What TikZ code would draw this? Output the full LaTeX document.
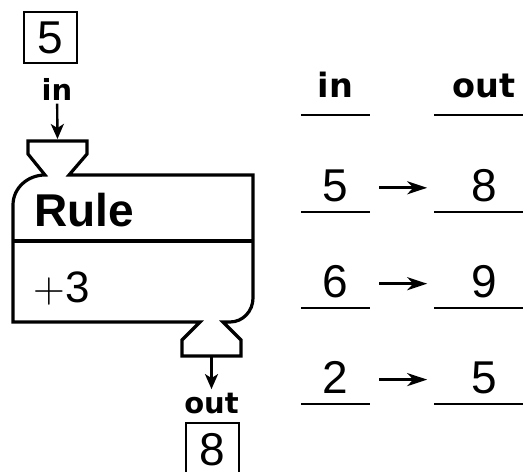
\documentclass[tikz,border=0pt]{standalone}
\usepackage{fontspec}
\setmainfont{Liberation Sans}
\newfontfamily\heavyfont{DejaVu Sans}
\newfontfamily\plusfont{Latin Modern Roman}
\usetikzlibrary{arrows.meta,positioning}

\newcommand{\bignum}{\fontsize{46}{50}\selectfont}
\newcommand{\headfont}{\heavyfont\fontsize{33.5}{36}\selectfont\bfseries}
\newcommand{\tagfont}{\heavyfont\fontsize{29}{32}\selectfont\bfseries}

\begin{document}
\begin{tikzpicture}[x=1pt, y=-1pt,
  numbox/.style={draw, line width=2pt, inner sep=0pt, minimum width=53pt,
                 minimum height=51pt, font=\bignum},
  cell/.style={inner sep=0pt, text height=38pt, text depth=10pt,
               minimum width=69pt, font=\bignum},
  widecell/.style={cell, minimum width=100pt},
  headcell/.style={inner sep=0pt, text height=30pt, text depth=17pt,
                   minimum width=69pt, font=\headfont},
  wideheadcell/.style={headcell, minimum width=100pt},
  rulebox/.style={line width=3.2pt, line join=miter},
  flow/.style={-{Stealth[length=20pt,width=13pt,inset=6pt]}, line width=2.8pt},
  drop/.style={-{Stealth[length=15pt,width=13pt,inset=4pt]}, line width=2.4pt},
  uline/.style={line width=2.2pt}]
  \useasboundingbox (0,0) rectangle (523,472);

  % machine: input side
  \node[numbox] (inbox) at (50.5,37.5) {5};
  \node[font=\tagfont, anchor=base] (intag) at (57,100) {in};
  \coordinate (funtop) at (57.5,139);

  % rule machine body with its two funnels
  \draw[rulebox] (28,141) -- (87,141) -- (87,154) -- (69,175) -- (253,175)
    -- (253,298) to[out=90+180,in=0] (230,322) -- (223,322) -- (241,340)
    -- (241,356) -- (182,356) -- (182,340) -- (200,322) -- (13,322)
    -- (13,205) to[out=90,in=180] (45,175) -- (28,154) -- cycle;
  \draw[rulebox] (13,241) -- (253,241);
  \node[font=\fontsize{46}{48}\selectfont\bfseries, anchor=base west]
    (rule) at (31,226) {Rule};
  \node[font=\fontsize{44}{48}\selectfont, anchor=base west]
    (step3) at (30,302) {{\plusfont +}3};
  \coordinate (funbot) at (211.5,357);

  % machine: output side
  \node[font=\tagfont, anchor=base] (outtag) at (211.5,413) {out};
  \node[numbox, anchor=north, minimum height=54pt] (outbox) at (212.5,422) {8};

  \draw[drop] (intag) -- (funtop);
  \draw[drop] (funbot) -- (outtag);

  % table of inputs and outputs
  \node[headcell, anchor=south] (hin) at (335.5,115) {in};
  \node[wideheadcell, right=64pt of hin] (hout) {out};
  \node[cell, anchor=south] (a1) at (335.5,212) {5};
  \node[cell, below=47.5pt of a1] (a2) {6};
  \node[cell, below=47.5pt of a2] (a3) {2};
  \node[widecell, right=64pt of a1] (b1) {8};
  \node[widecell, right=64pt of a2] (b2) {9};
  \node[widecell, right=64pt of a3] (b3) {5};

  \foreach \c in {hin,hout,a1,a2,a3,b1,b2,b3}
    \draw[uline] (\c.south west) -- (\c.south east);
  \foreach \r in {1,2,3}
    \draw[flow, shorten <=9pt, shorten >=7pt] (a\r) -- (b\r);
\end{tikzpicture}
\end{document}
